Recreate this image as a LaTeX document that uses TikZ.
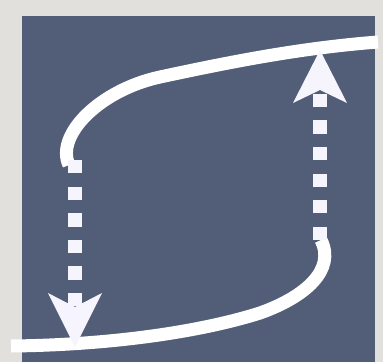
\documentclass[tikz,border=0pt]{standalone}
\definecolor{paper}{HTML}{E1E0DC}
\definecolor{slate}{HTML}{525E77}
\definecolor{arrowwhite}{HTML}{F6F4FD}
\tikzset{
  branch/.style={draw=white, line width=13pt, line cap=butt},
  shaft/.style={draw=arrowwhite, line width=13.3pt, dash pattern=on 13.3pt off 13.3pt},
  head/.style={fill=arrowwhite}
}
\begin{document}
\begin{tikzpicture}[x=1pt,y=-1pt]
\useasboundingbox (0,0) rectangle (383,362);
\fill[paper] (0,0) rectangle (383,362);
\fill[slate] (22,16) rectangle (375,362);
% upper branch
\coordinate (uend) at (69,165);
\coordinate (umid) at (160,77);
\coordinate (uright) at (378,42);
\draw[branch] (uend) .. controls (55,135) and (100,90) .. (umid)
  .. controls (230,62) and (300,48) .. (uright);
% lower branch
\coordinate (lend) at (321,240);
\coordinate (lmid) at (260,313);
\coordinate (lleft) at (11,346);
\draw[branch] (lend) .. controls (336,270) and (305,297) .. (lmid)
  .. controls (200,332) and (110,345) .. (lleft);
% downward jump
\coordinate (dtop) at (75,160);
\coordinate (dnotch) at (75,312);
\coordinate (dbot) at (75,347);
\draw[shaft] (dtop) -- (dnotch);
\fill[head] (dbot) -- ++(-27,-54) -- ++(27,14) -- ++(27,-14) -- cycle;
% upward jump
\coordinate (ubot) at (320,240);
\coordinate (unotch) at (320,86);
\coordinate (utop) at (320,50);
\draw[shaft] (ubot) -- (unotch);
\fill[head] (utop) -- ++(-27,53) -- ++(27,-13) -- ++(27,13) -- cycle;
\end{tikzpicture}
\end{document}
